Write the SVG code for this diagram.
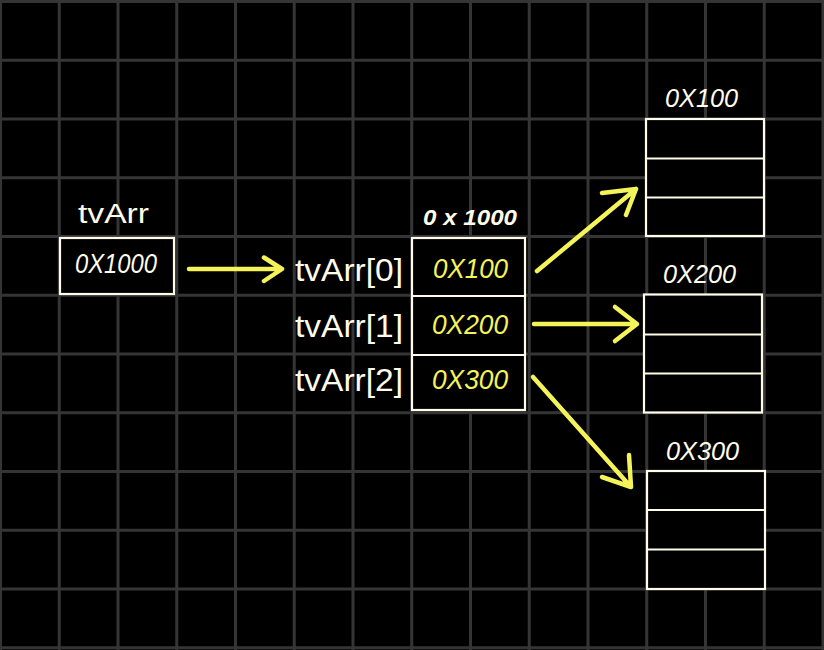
<svg xmlns="http://www.w3.org/2000/svg" width="824" height="650" viewBox="0 0 824 650">
<defs>
<pattern id="grid" x="-1" y="0" width="58.75" height="58.75" patternUnits="userSpaceOnUse">
<path d="M1.5,0 V58.75 M0,1.5 H58.75" stroke="#353535" stroke-width="3" fill="none"/>
</pattern>
<style>
.box{fill:#000;stroke:#fffdea;stroke-width:2.2}
.div{stroke:#fffdea;stroke-width:2.2;fill:none}
.t{font-family:"Liberation Sans",Arial,sans-serif;fill:#fffdea}
.v{font-family:"Liberation Sans",Arial,sans-serif;font-style:italic;fill:#fffdea}
.y{fill:#f4f45a}
.arr{stroke:#f4f45a;stroke-width:4.5;fill:none;stroke-linecap:round;stroke-linejoin:round}
</style>
</defs>
<rect width="824" height="650" fill="#000"/>
<rect width="824" height="650" fill="url(#grid)"/>

<g id="tvArr-var">
<text class="t" x="78" y="223" font-size="27" textLength="71" lengthAdjust="spacingAndGlyphs">tvArr</text>
<rect class="box" x="60" y="238" width="114" height="56"/>
<text class="v" x="75" y="273" font-size="27" textLength="82" lengthAdjust="spacingAndGlyphs">0X1000</text>
</g>

<g id="array">
<text class="v" x="423" y="225" font-size="22" font-weight="bold" textLength="94" lengthAdjust="spacingAndGlyphs">0 x 1000</text>
<rect class="box" x="412" y="238" width="113" height="172"/>
<path class="div" d="M412,296 H525 M412,355 H525"/>
<text class="t" x="295" y="281" font-size="31" textLength="108" lengthAdjust="spacingAndGlyphs">tvArr[0]</text>
<text class="t" x="295" y="337" font-size="31" textLength="108" lengthAdjust="spacingAndGlyphs">tvArr[1]</text>
<text class="t" x="295" y="391" font-size="31" textLength="108" lengthAdjust="spacingAndGlyphs">tvArr[2]</text>
<text class="v y" x="433" y="278" font-size="27" textLength="75" lengthAdjust="spacingAndGlyphs">0X100</text>
<text class="v y" x="432" y="334" font-size="27" textLength="76" lengthAdjust="spacingAndGlyphs">0X200</text>
<text class="v y" x="432" y="389" font-size="27" textLength="76" lengthAdjust="spacingAndGlyphs">0X300</text>
</g>

<g id="obj100">
<text class="v" x="665" y="107" font-size="26" textLength="73" lengthAdjust="spacingAndGlyphs">0X100</text>
<rect class="box" x="646" y="119" width="118" height="117"/>
<path class="div" d="M646,158.5 H764 M646,197.5 H764"/>
</g>

<g id="obj200">
<text class="v" x="663" y="283" font-size="26" textLength="73" lengthAdjust="spacingAndGlyphs">0X200</text>
<rect class="box" x="644" y="294.5" width="118" height="118"/>
<path class="div" d="M644,334.5 H762 M644,373.5 H762"/>
</g>

<g id="obj300">
<text class="v" x="666" y="460" font-size="26" textLength="73" lengthAdjust="spacingAndGlyphs">0X300</text>
<rect class="box" x="647" y="471" width="118" height="118"/>
<path class="div" d="M647,510 H765 M647,549.5 H765"/>
</g>

<g id="connectors">
<path class="arr" d="M189,269 H281 M264,257.5 L282,269 L264,281"/>
<path class="arr" d="M537,271 L636,189 M602,193 L636,189 L626,215"/>
<path class="arr" d="M534,324 H636 M615,307 L637,324 L615,341"/>
<path class="arr" d="M533,377 L630,486 M602,477 L631,487 L629,455"/>
</g>
</svg>
